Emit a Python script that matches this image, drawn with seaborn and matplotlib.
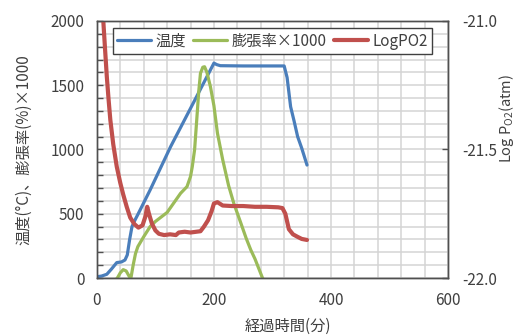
import matplotlib
matplotlib.use("Agg")
import matplotlib.pyplot as plt
import seaborn as sns
from matplotlib.ticker import MultipleLocator, FormatStrFormatter

# temperature (deg C)
temp_t = [0, 8, 17, 25, 34, 42, 48, 52, 56, 60, 65, 71, 91, 126, 160, 190, 200,
          205, 211, 250, 290, 320, 325, 331, 337, 343, 350, 359]
temp_v = [10, 15, 29, 70, 120, 125, 140, 180, 300, 400, 450, 503, 685, 1022, 1320,
          1584, 1672, 1660, 1652, 1650, 1650, 1650, 1560, 1333, 1220, 1100, 1010, 879]

# expansion (%) x 1000
exp_t = [0, 10, 20, 30, 35, 40, 45, 50, 55, 58, 62, 66, 70, 80, 91, 100, 120, 143,
         154, 160, 163, 167, 171, 174, 177, 181, 184, 188, 194, 200, 206, 215, 225,
         234, 245, 255, 263, 270, 283, 290]
exp_v = [-30, -40, -40, -25, 0, 40, 65, 55, 15, -5, 100, 190, 244, 321, 400, 440,
         510, 659, 711, 790, 866, 1000, 1255, 1450, 1593, 1640, 1644, 1600, 1489,
         1340, 1127, 920, 720, 580, 440, 310, 218, 150, 0, -60]

# Log PO2 (atm), right axis
po2_t = [5, 11, 14, 17, 20, 23, 28, 34, 40, 45, 51, 57, 64, 71, 78, 83, 86, 89, 94,
         100, 106, 115, 125, 135, 140, 150, 160, 170, 177, 183, 190, 196, 200, 206,
         215, 230, 250, 270, 290, 310, 317, 322, 328, 335, 343, 350, 359]
po2_v = [-20.850, -21.000, -21.110, -21.217, -21.305, -21.385, -21.480, -21.567,
         -21.630, -21.675, -21.723, -21.765, -21.790, -21.804, -21.795, -21.760,
         -21.723, -21.750, -21.788, -21.815, -21.828, -21.833, -21.830, -21.833,
         -21.823, -21.820, -21.823, -21.820, -21.818, -21.800, -21.775, -21.740,
         -21.710, -21.705, -21.718, -21.720, -21.720, -21.723, -21.723, -21.725,
         -21.728, -21.750, -21.810, -21.830, -21.840, -21.848, -21.852]

sns.set_style("white")
plt.rcParams['font.family'] = ['Noto Sans CJK JP', 'DejaVu Sans']
plt.rcParams['axes.unicode_minus'] = False

fig = plt.figure(figsize=(5.18, 3.36), dpi=100)
ax = fig.add_axes([0.187, 0.1726, 0.678, 0.765])
ax2 = ax.twinx()

sns.lineplot(x=temp_t, y=temp_v, ax=ax, color='#4a7ebb', lw=2.3, label='温度', legend=False)
sns.lineplot(x=exp_t, y=exp_v, ax=ax, color='#9bbb59', lw=2.3, label='膨張率×1000', legend=False)
sns.lineplot(x=po2_t, y=po2_v, ax=ax2, color='#c0504d', lw=3.0, label='LogPO2', legend=False)

ax.set_xlim(0, 600)
ax.set_ylim(0, 2000)
ax2.set_ylim(-22, -21)

ax.xaxis.set_major_locator(MultipleLocator(200))
ax.xaxis.set_minor_locator(MultipleLocator(40))
ax.yaxis.set_major_locator(MultipleLocator(500))
ax.yaxis.set_minor_locator(MultipleLocator(100))
ax2.yaxis.set_major_locator(MultipleLocator(0.5))
ax2.yaxis.set_major_formatter(FormatStrFormatter('%.1f'))

ax.grid(which='both', color='#d4d4d4', lw=1.1)
ax.set_axisbelow(True)

tc = '#404040'
for a in (ax, ax2):
    for s in a.spines.values():
        s.set_color('#505050')
        s.set_linewidth(1.0)
ax.tick_params(which='both', direction='in', length=4, width=1, color='#505050',
               labelsize=11, labelcolor=tc, pad=9)
ax.tick_params(axis='x', pad=10)
ax2.tick_params(which='both', direction='in', length=4, width=1, color='#505050',
                labelsize=11, labelcolor=tc, pad=10)

ax.set_xlabel('経過時間(分)', fontsize=11, color=tc)
ax.xaxis.set_label_coords(0.545, -0.155)
ax.set_ylabel('温度(°C)、膨張率(%)×1000', fontsize=11, color=tc)
ax.yaxis.set_label_coords(-0.185, 0.5)
ax2.set_ylabel('Log P$_\\mathregular{O2}$(atm)', fontsize=10.5, color=tc)
ax2.yaxis.set_label_coords(1.14, 0.62)

h1, l1 = ax.get_legend_handles_labels()
h2, l2 = ax2.get_legend_handles_labels()
leg = ax2.legend(h1 + h2, l1 + l2, ncol=3, loc='center',
                 bbox_to_anchor=(0.5, 0.922), fontsize=11, frameon=True,
                 fancybox=False, framealpha=1, edgecolor='#404040',
                 handlelength=2.2, columnspacing=0.5, handletextpad=0.3,
                 borderpad=0.3)
leg.get_frame().set_linewidth(1.0)
for t in leg.get_texts():
    t.set_color(tc)

fig.savefig('out.png', dpi=100)
